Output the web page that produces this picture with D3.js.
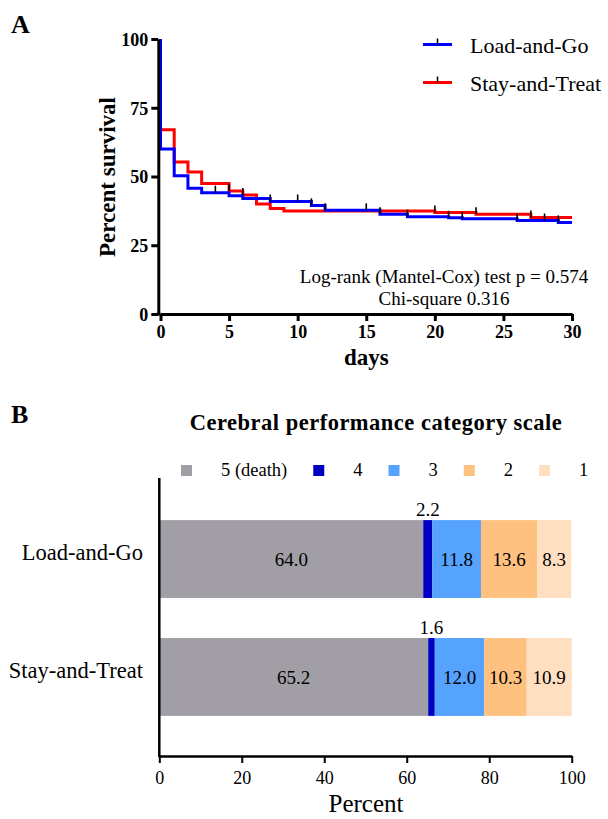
<!DOCTYPE html>
<html><head><meta charset="utf-8">
<script src="https://cdn.jsdelivr.net/npm/d3@7"></script>
<style>
body{margin:0;background:#fff;}
svg{display:block;font-family:"Liberation Serif","Times New Roman",serif;}
</style></head>
<body><svg id="c" width="608" height="819"></svg>
<script>
// ---- Panel A data (Kaplan-Meier steps) ----
const lgTime = [0, 0, 1, 2, 3, 5, 6, 8, 11, 12, 16, 18, 21, 22, 26, 29, 30];
const lgSurv = [100, 60.0, 50.3, 45.7, 44.1, 43.0, 42.0, 40.9, 39.5, 37.7, 36.3, 35.4, 35.0, 34.6, 34.0, 33.3, 33.3];
const lgCensor = [4, 8, 10, 11, 12, 15, 16, 18, 21, 22, 26, 28, 29];
const stTime = [0, 0, 1, 2, 3, 5, 6, 7, 8, 9, 20, 23, 27, 30];
const stSurv = [100, 67.0, 55.3, 51.6, 47.5, 44.7, 43.3, 40.0, 38.4, 37.5, 36.9, 36.3, 35.1, 35.1];
const stCensor = [5, 6, 20, 23, 27];
const seriesNames = ["Load-and-Go", "Stay-and-Treat"];
const seriesColors = ["#0000ff", "#ff0000"];
const xTicksA = [0, 5, 10, 15, 20, 25, 30];
const yTicksA = [0, 25, 50, 75, 100];

// ---- Panel B data ----
const groups = ["Load-and-Go", "Stay-and-Treat"];
const cpcCats = ["5 (death)", "4", "3", "2", "1"];
const cpcColors = ["#a19fa5", "#0000c2", "#56a2ff", "#ffc180", "#ffdfbf"];
const lgCPC = [64.0, 2.2, 11.8, 13.6, 8.3];
const stCPC = [65.2, 1.6, 12.0, 10.3, 10.9];
const xTicksB = [0, 20, 40, 60, 80, 100];

const svg = d3.select("#c");

// ================= Panel A =================
const x = d3.scaleLinear().domain([0, 30]).range([160.5, 572]);
const y = d3.scaleLinear().domain([0, 100]).range([314, 39]);
const axisX = 158.3;

svg.append("text").attr("x", 11).attr("y", 33).attr("font-size", 26).attr("font-weight", "bold").text("A");

const gA = svg.append("g");
const line = d3.line().x(d => x(d[0])).y(d => y(d[1])).curve(d3.curveStepAfter);
const sets = [
  {t: lgTime, s: lgSurv, c: lgCensor},
  {t: stTime, s: stSurv, c: stCensor}
];
function survAt(set, t) {
  let v = set.s[0];
  for (let i = 0; i < set.t.length; i++) if (set.t[i] <= t) v = set.s[i];
  return v;
}
[1, 0].forEach(i => {
  const set = sets[i];
  const pts = set.t.map((t, k) => [t, set.s[k]]);
  gA.append("path").attr("d", line(pts)).attr("fill", "none")
    .attr("stroke", seriesColors[i]).attr("stroke-width", 3);
});
[0, 1].forEach(i => {
  const set = sets[i];
  set.c.forEach(t => {
    const v = survAt(set, t);
    gA.append("line").attr("x1", x(t)).attr("x2", x(t))
      .attr("y1", y(v)).attr("y2", y(v) - 7)
      .attr("stroke", "#000").attr("stroke-width", 1.6);
  });
});

// axes
const axL = d3.axisLeft(y).tickValues(yTicksA).tickSize(7).tickPadding(3).tickSizeOuter(0);
const gy = svg.append("g").attr("transform", `translate(${axisX},0)`).call(axL);
const axB = d3.axisBottom(x).tickValues(xTicksA).tickSize(7).tickPadding(4).tickSizeOuter(0);
const gx = svg.append("g").attr("transform", `translate(0,${y(0)})`).call(axB);
gx.append("line").attr("x1", axisX - 1.5).attr("x2", x(0)).attr("stroke", "#000").attr("stroke-width", 3);
[gy, gx].forEach(g => {
  g.select(".domain").attr("stroke", "#000").attr("stroke-width", 3);
  g.selectAll(".tick line").attr("stroke", "#000").attr("stroke-width", 3);
  g.selectAll(".tick text").attr("font-family", "Liberation Serif").attr("font-size", 18)
    .attr("font-weight", "bold").attr("fill", "#000");
});
gy.selectAll(".tick text").attr("dy", "0.36em");

svg.append("text").attr("transform", "translate(115,177) rotate(-90)").attr("text-anchor", "middle")
  .attr("font-size", 23).attr("font-weight", "bold").text("Percent survival");
svg.append("text").attr("x", x(15)).attr("y", 365).attr("text-anchor", "middle")
  .attr("font-size", 23).attr("font-weight", "bold").text("days");

svg.append("text").attr("x", 444).attr("y", 283).attr("text-anchor", "middle")
  .attr("font-size", 19).text("Log-rank (Mantel-Cox) test p = 0.574");
svg.append("text").attr("x", 444).attr("y", 305).attr("text-anchor", "middle")
  .attr("font-size", 19).text("Chi-square 0.316");

// legend A
const legYs = [44.5, 82.5];
seriesNames.forEach((n, i) => {
  const g = svg.append("g");
  g.append("line").attr("x1", 423).attr("x2", 452).attr("y1", legYs[i]).attr("y2", legYs[i])
    .attr("stroke", seriesColors[i]).attr("stroke-width", 3);
  g.append("line").attr("x1", 437.5).attr("x2", 437.5).attr("y1", legYs[i]).attr("y2", legYs[i] - 6)
    .attr("stroke", "#000").attr("stroke-width", 1.5);
  g.append("text").attr("x", 470).attr("y", legYs[i] + 8.5).attr("font-size", 22).text(n);
});

// ================= Panel B =================
svg.append("text").attr("x", 11).attr("y", 423).attr("font-size", 26).attr("font-weight", "bold").text("B");
svg.append("text").attr("x", 376).attr("y", 430).attr("text-anchor", "middle")
  .attr("font-size", 22.5).attr("font-weight", "bold").attr("letter-spacing", 0.5)
  .text("Cerebral performance category scale");

// legend B
let lx = 181;
cpcCats.forEach((c, i) => {
  svg.append("rect").attr("x", lx).attr("y", 465).attr("width", 11).attr("height", 11).attr("fill", cpcColors[i]);
  const t = svg.append("text").attr("x", lx + 11 + 29).attr("y", 476).attr("font-size", 18.5).text(c);
  lx = lx + 11 + 29 + t.node().getComputedTextLength() + 26;
});

const bx = d3.scaleLinear().domain([0, 100]).range([159.3, 571.7]);
const by = d3.scaleBand().domain(groups).range([480, 756]).padding(0.34);
const data = [lgCPC, stCPC];

groups.forEach((g, gi) => {
  let cum = 0;
  data[gi].forEach((v, ci) => {
    const x0 = bx(cum), x1 = bx(cum + v);
    svg.append("rect").attr("x", x0).attr("y", by(g)).attr("width", x1 - x0)
      .attr("height", by.bandwidth()).attr("fill", cpcColors[ci]);
    const cx = (x0 + x1) / 2;
    if (ci === 1) {
      svg.append("text").attr("x", cx).attr("y", by(g) - 4).attr("text-anchor", "middle")
        .attr("font-size", 19).text(v.toFixed(1));
    } else {
      svg.append("text").attr("x", cx).attr("y", by(g) + by.bandwidth() / 2 + 7).attr("text-anchor", "middle")
        .attr("font-size", 19).text(v.toFixed(1));
    }
    cum += v;
  });
  svg.append("text").attr("x", 143).attr("y", by(g) + by.bandwidth() / 2 + 1).attr("text-anchor", "end")
    .attr("font-size", 22.5).text(g);
});

const axBB = d3.axisBottom(bx).tickValues(xTicksB).tickSize(7).tickPadding(8).tickSizeOuter(0);
const gbx = svg.append("g").attr("transform", "translate(0,756)").call(axBB);
gbx.select(".domain").attr("stroke", "#000").attr("stroke-width", 2.5);
gbx.selectAll(".tick line").attr("stroke", "#000").attr("stroke-width", 2);
gbx.selectAll(".tick text").attr("font-family", "Liberation Serif").attr("font-size", 18).attr("fill", "#000");
svg.append("line").attr("x1", bx(0)).attr("x2", bx(0)).attr("y1", 478).attr("y2", 757)
  .attr("stroke", "#000").attr("stroke-width", 2.5);
svg.append("text").attr("x", 366).attr("y", 812).attr("text-anchor", "middle")
  .attr("font-size", 25).text("Percent");
</script></body></html>
